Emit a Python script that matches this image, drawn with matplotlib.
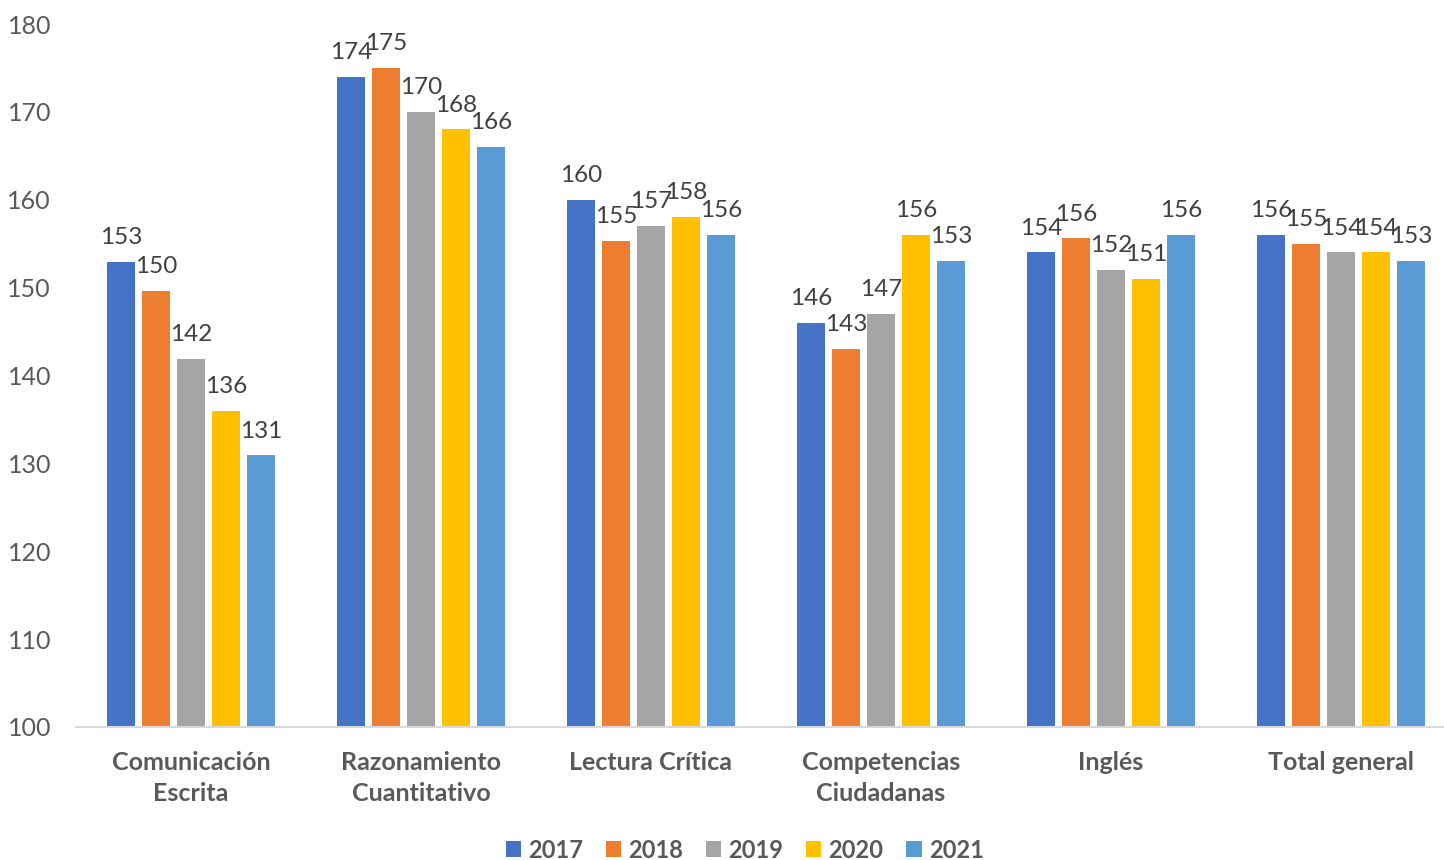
import numpy as np
import matplotlib
matplotlib.use("Agg")
import matplotlib.pyplot as plt

# Data
categories = ["Comunicación\nEscrita", "Razonamiento\nCuantitativo", "Lectura Crítica",
              "Competencias\nCiudadanas", "Inglés", "Total general"]
years = ["2017", "2018", "2019", "2020", "2021"]
scores_2017 = [152.9, 174.0, 160.0, 146.0, 154.0, 156.0]
scores_2018 = [149.6, 175.0, 155.3, 143.0, 155.6, 155.0]
scores_2019 = [141.9, 170.0, 157.0, 147.0, 152.0, 154.0]
scores_2020 = [136.0, 168.0, 158.0, 156.0, 151.0, 154.0]
scores_2021 = [130.9, 166.0, 156.0, 153.0, 156.0, 153.0]
colors = ["#4472C4", "#ED7D31", "#A5A5A5", "#FFC000", "#5B9BD5"]

series = [scores_2017, scores_2018, scores_2019, scores_2020, scores_2021]

plt.rcParams['font.family'] = ['Lato', 'DejaVu Sans']

fig = plt.figure(figsize=(14.44, 8.6), dpi=100)
ax = fig.add_axes([76 / 1444, 133 / 860, 1380 / 1444, 703 / 860])

x = np.arange(len(categories))
pitch = 0.152
width = 0.122
for i, (vals, year, col) in enumerate(zip(series, years, colors)):
    pos = x + (i - 2) * pitch
    bars = ax.bar(pos, vals, width, bottom=0, color=col, label=year, zorder=2)
    for b, v in zip(bars, vals):
        ax.annotate(f"{v:.0f}", (b.get_x() + b.get_width() / 2, v),
                    xytext=(0, 10), textcoords="offset points",
                    ha="center", va="bottom", fontsize=17.5, color="#404040")

ax.set_ylim(100, 180)
ax.set_xlim(-0.5, 5.5)
ax.set_yticks(range(100, 181, 10))
ax.set_xticks(x)
ax.set_xticklabels(categories, fontsize=18, fontweight="bold", color="#595959",
                   linespacing=1.45)
ax.tick_params(axis="y", labelsize=18, labelcolor="#595959", length=0, pad=18)
ax.tick_params(axis="x", length=0, pad=17)
for s in ["top", "right", "left"]:
    ax.spines[s].set_visible(False)
ax.spines["bottom"].set_color("#D9D9D9")
ax.spines["bottom"].set_linewidth(1.5)
ax.set_facecolor("none")

fig.legend(loc="center", bbox_to_anchor=(745 / 1444, 1 - 850 / 860), ncol=5,
           frameon=False, handlelength=0.64, handleheight=0.64, handletextpad=0.3,
           columnspacing=0.97, prop={"size": 17, "weight": "bold"}, labelcolor="#595959")

fig.savefig("out.png", dpi=100)
